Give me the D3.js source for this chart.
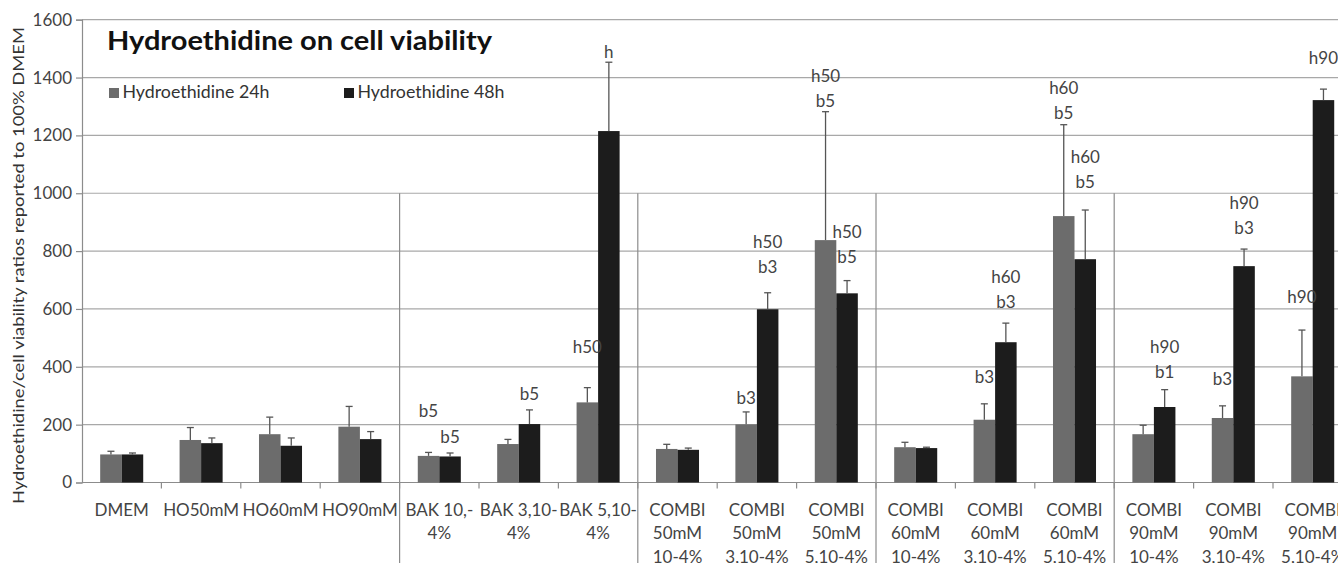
<!DOCTYPE html>
<html>
<head>
<meta charset="utf-8">
<script src="https://cdn.jsdelivr.net/npm/d3@7/dist/d3.min.js"></script>
<style>
body{margin:0;background:#fff;}
text{font-family:Lato,'Open Sans',sans-serif;}
</style>
</head>
<body>
<div class="box"></div>
<script>
// categories (each label already split into its lines)
const categories=[
    ["DMEM"],["HO50mM"],["HO60mM"],["HO90mM"],
    ["BAK 10,-","4%"],["BAK 3,10-","4%"],["BAK 5,10-","4%"],
    ["COMBI","50mM","10-4%"],["COMBI","50mM","3,10-4%"],["COMBI","50mM","5,10-4%"],
    ["COMBI","60mM","10-4%"],["COMBI","60mM","3,10-4%"],["COMBI","60mM","5,10-4%"],
    ["COMBI","90mM","10-4%"],["COMBI","90mM","3,10-4%"],["COMBI","90mM","5,10-4%"]
];
const seriesNames=["Hydroethidine 24h","Hydroethidine 48h"];
const values24=[97,147,167,193,92,133,277,116,201,838,122,217,921,167,223,367];
const values48=[97,136,127,150,90,202,1215,113,599,654,119,485,772,261,748,1322];
const sd24=[11,43,59,70,12,16,51,16,43,444,17,55,316,31,42,160];
const sd48=[5,18,27,26,12,49,238,6,57,44,3,66,170,60,59,38];
const groupBreaks=[4,7,10,13]; // vertical separators before these categories
const yTicks=[0,200,400,600,800,1000,1200,1400,1600];
// statistical letters: category, series, text lines, height of first line (data units)
const notes=[
    {cat:4,s:0,lines:["b5"],at:248},
    {cat:4,s:1,lines:["b5"],at:158},
    {cat:5,s:1,lines:["b5"],at:305},
    {cat:6,s:0,lines:["h50"],at:467},
    {cat:6,s:1,lines:["h"],at:1489},
    {cat:8,s:0,lines:["b3"],at:292},
    {cat:8,s:1,lines:["h50","b3"],at:831},
    {cat:9,s:0,lines:["h50","b5"],at:1405},
    {cat:9,s:1,lines:["h50","b5"],at:867},
    {cat:11,s:0,lines:["b3"],at:364},
    {cat:11,s:1,lines:["h60","b3"],at:711},
    {cat:12,s:0,lines:["h60","b5"],at:1365},
    {cat:12,s:1,lines:["h60","b5"],at:1126},
    {cat:13,s:1,lines:["h90","b1"],at:469},
    {cat:14,s:0,lines:["b3"],at:357},
    {cat:14,s:1,lines:["h90","b3"],at:965},
    {cat:15,s:0,lines:["h90"],at:642},
    {cat:15,s:1,lines:["h90"],at:1467}
];

const W=1338,H=563;
const m={left:82,top:19.7,bottom:482.5};
const step=79.4;
const couleurs=["#6c6c6c","#1c1c1c"];

const svg=d3.select('.box')
    .append('svg')
    .attr('width',W)
    .attr('height',H)
    .style('display','block');
svg.append('rect').attr('width',W).attr('height',H).attr('fill','#fff');

const x=d3.scaleBand()
    .domain(d3.range(categories.length))
    .range([m.left,m.left+step*categories.length])
    .paddingInner(0.458)
    .paddingOuter(0.229);
const xs=d3.scaleBand()
    .domain([0,1])
    .range([0,x.bandwidth()]);
const y=d3.scaleLinear()
    .domain([0,1600])
    .range([m.bottom,m.top]);

// gridlines
svg.append('g')
    .selectAll('line')
    .data(yTicks.filter(t=>t>0))
    .enter()
    .append('line')
    .attr('x1',m.left).attr('x2',W)
    .attr('y1',d=>y(d)).attr('y2',d=>y(d))
    .attr('stroke','#a8a8a8')
    .attr('stroke-width',1.2);

// y axis
const yAxis=svg.append('g')
    .attr('transform',`translate(${m.left},0)`)
    .call(d3.axisLeft(y).tickValues(yTicks).tickSize(6).tickPadding(4).tickFormat(d3.format('d')));
yAxis.select('.domain').attr('stroke','#8c8c8c').attr('stroke-width',1.2);
yAxis.selectAll('.tick line').attr('stroke','#8c8c8c').attr('stroke-width',1.2);
yAxis.selectAll('text')
    .attr('fill','#444')
    .style('font-size','17px')
    .style('font-family','Lato');

svg.append('text')
    .attr('transform',`translate(24,${265.5}) rotate(-90)`)
    .attr('text-anchor','middle')
    .attr('fill','#333')
    .style('font-size','16px')
    .attr('textLength',477)
    .attr('lengthAdjust','spacingAndGlyphs')
    .text('Hydroethidine/cell viability ratios reported to 100% DMEM');

// x axis line and ticks
svg.append('line')
    .attr('x1',m.left).attr('x2',W)
    .attr('y1',y(0)).attr('y2',y(0))
    .attr('stroke','#8c8c8c').attr('stroke-width',1.2);
const bounds=d3.range(1,categories.length+1).map(i=>m.left+x.step()*i);
svg.append('g')
    .selectAll('line')
    .data(bounds)
    .enter()
    .append('line')
    .attr('x1',d=>d).attr('x2',d=>d)
    .attr('y1',y(0)).attr('y2',y(0)+6)
    .attr('stroke','#8c8c8c').attr('stroke-width',1.2);
svg.append('g')
    .selectAll('line')
    .data(groupBreaks)
    .enter()
    .append('line')
    .attr('x1',d=>m.left+x.step()*d).attr('x2',d=>m.left+x.step()*d)
    .attr('y1',y(1000)).attr('y2',H)
    .attr('stroke','#8c8c8c').attr('stroke-width',1.2);

// category labels
const lab=svg.append('g')
    .selectAll('text')
    .data(categories)
    .enter()
    .append('text')
    .attr('text-anchor','middle')
    .attr('fill','#444')
    .style('font-size','17px');
lab.each(function(d,i){
    d3.select(this).selectAll('tspan')
        .data(d)
        .enter()
        .append('tspan')
        .attr('x',x(i)+x.bandwidth()/2)
        .attr('y',(t,j)=>516+j*23.3)
        .text(t=>t);
});

// bars
const donnees=categories.map((c,i)=>[
    {cat:i,s:0,v:values24[i],e:sd24[i]},
    {cat:i,s:1,v:values48[i],e:sd48[i]}
]).flat();

const bars=svg.append('g');
bars.selectAll('rect')
    .data(donnees)
    .enter()
    .append('rect')
    .attr('x',d=>x(d.cat)+xs(d.s))
    .attr('width',xs.bandwidth())
    .attr('y',d=>y(d.v))
    .attr('height',d=>y(0)-y(d.v))
    .attr('fill',d=>couleurs[d.s]);

// error bars
const err=svg.append('g').attr('stroke','#555').attr('stroke-width',1.3);
err.selectAll('line.v')
    .data(donnees)
    .enter()
    .append('line')
    .attr('class','v')
    .attr('x1',d=>x(d.cat)+xs(d.s)+xs.bandwidth()/2)
    .attr('x2',d=>x(d.cat)+xs(d.s)+xs.bandwidth()/2)
    .attr('y1',d=>y(d.v))
    .attr('y2',d=>y(d.v+d.e));
err.selectAll('line.c')
    .data(donnees)
    .enter()
    .append('line')
    .attr('class','c')
    .attr('x1',d=>x(d.cat)+xs(d.s)+xs.bandwidth()/2-3.5)
    .attr('x2',d=>x(d.cat)+xs(d.s)+xs.bandwidth()/2+3.5)
    .attr('y1',d=>y(d.v+d.e))
    .attr('y2',d=>y(d.v+d.e));

// letters
const nt=svg.append('g')
    .selectAll('text')
    .data(notes)
    .enter()
    .append('text')
    .attr('text-anchor','middle')
    .attr('fill','#444')
    .style('font-size','17px');
nt.each(function(d){
    const cx=x(d.cat)+xs(d.s)+xs.bandwidth()/2;
    d3.select(this).selectAll('tspan')
        .data(d.lines)
        .enter()
        .append('tspan')
        .attr('x',cx)
        .attr('y',(t,j)=>y(d.at)+6+j*25)
        .text(t=>t);
});

// title
svg.append('text')
    .attr('x',107)
    .attr('y',50)
    .attr('fill','#111')
    .style('font-size','26px')
    .style('font-weight','bold')
    .attr('textLength',385)
    .attr('lengthAdjust','spacingAndGlyphs')
    .text('Hydroethidine on cell viability');

// legend
const leg=svg.append('g')
    .selectAll('g')
    .data(seriesNames)
    .enter()
    .append('g')
    .attr('transform',(d,i)=>`translate(${109+i*235},88)`);
leg.append('rect')
    .attr('width',10).attr('height',10)
    .attr('fill',(d,i)=>couleurs[i]);
leg.append('text')
    .attr('x',13.5)
    .attr('y',10.3)
    .attr('fill','#333')
    .style('font-size','16.5px')
    .attr('textLength',147)
    .attr('lengthAdjust','spacingAndGlyphs')
    .text(d=>d);
</script>
</body>
</html>
